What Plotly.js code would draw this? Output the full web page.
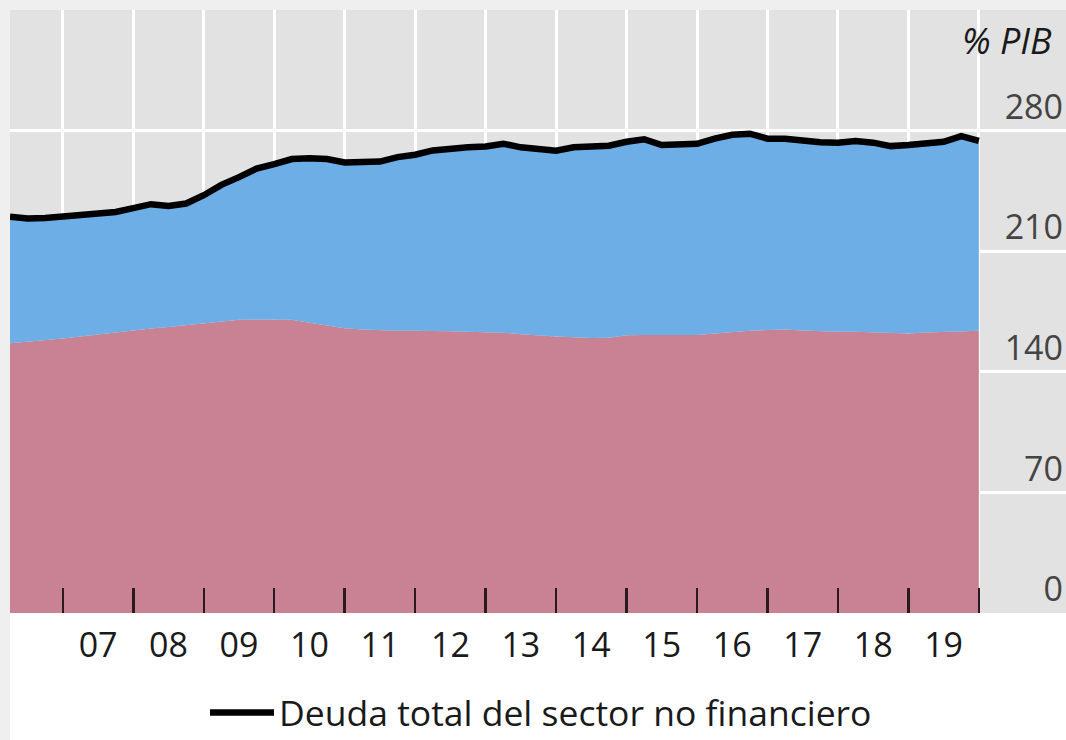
<!DOCTYPE html>
<html>
<head>
<meta charset="utf-8">
<script src="https://cdn.plot.ly/plotly-3.0.1.min.js"></script>
<style>html,body{margin:0;padding:0;background:#fff;overflow:hidden;}#chart{width:1066px;height:740px;}</style>
</head>
<body>
<div id="chart"></div>
<script>
// Quarterly positions (fraction of year, quarter-end), 2006 T1 .. 2019 T4
const quarters = [
  2006.25, 2006.5, 2006.75, 2007.0, 2007.25, 2007.5, 2007.75, 2008.0,
  2008.25, 2008.5, 2008.75, 2009.0, 2009.25, 2009.5, 2009.75, 2010.0,
  2010.25, 2010.5, 2010.75, 2011.0, 2011.25, 2011.5, 2011.75, 2012.0,
  2012.25, 2012.5, 2012.75, 2013.0, 2013.25, 2013.5, 2013.75, 2014.0,
  2014.25, 2014.5, 2014.75, 2015.0, 2015.25, 2015.5, 2015.75, 2016.0,
  2016.25, 2016.5, 2016.75, 2017.0, 2017.25, 2017.5, 2017.75, 2018.0,
  2018.25, 2018.5, 2018.75, 2019.0, 2019.25, 2019.5, 2019.75, 2020.0
];

// Lower (pink) component, % of GDP
const lowerSeries = [
  156.5, 157.3, 158.3, 159.3, 160.5, 161.7, 163.0, 164.3,
  165.1, 166.0, 167.0, 168.0, 169.3, 170.2, 170.4, 170.4,
  170.2, 168.5, 166.7, 165.3, 164.5, 164.0, 163.8, 163.8,
  163.8, 163.5, 163.2, 162.9, 162.7, 161.8, 161.0, 160.5,
  160.0, 159.6, 159.8, 161.2, 161.3, 161.3, 161.3, 161.4,
  162.3, 163.2, 163.8, 164.2, 164.6, 164.0, 163.5, 163.2,
  163.2, 163.0, 162.5, 162.3, 162.8, 163.2, 163.5, 163.8
];

// Total non-financial sector debt (black line), % of GDP
const totalDebt = [
  230.0, 229.0, 229.3, 230.0, 231.5, 231.8, 232.8, 235.0,
  237.3, 236.2, 237.7, 242.5, 248.5, 253.0, 258.0, 260.5,
  263.5, 264.0, 263.5, 261.5, 261.8, 262.0, 264.6, 266.0,
  268.5, 269.6, 270.3, 270.8, 272.4, 270.3, 269.0, 268.3,
  270.3, 270.6, 271.2, 273.5, 275.0, 271.6, 271.6, 272.3,
  275.3, 277.6, 278.2, 275.3, 275.3, 274.2, 273.3, 273.0,
  274.0, 273.0, 271.0, 271.6, 272.3, 273.5, 276.8, 274.0
];

const yearBounds = [2007,2008,2009,2010,2011,2012,2013,2014,2015,2016,2017,2018,2019,2020];
const yearLabelPos = [2007.5,2008.5,2009.5,2010.5,2011.5,2012.5,2013.5,2014.5,2015.5,2016.5,2017.5,2018.5,2019.5];
const yearLabels = ['07','08','09','10','11','12','13','14','15','16','17','18','19'];
const yTickVals = [0, 70, 140, 210, 280];
const yTickText = ['0', '70', '140', '210', '280'];
const legendName = 'Deuda total del sector no financiero';
const unitLabel = '% PIB';

const traces = [
  {
    x: quarters, y: lowerSeries, type: 'scatter', mode: 'lines',
    fill: 'tozeroy', fillcolor: '#c98293', line: {width: 0, color: '#c98293'},
    showlegend: false, hoverinfo: 'skip'
  },
  {
    x: quarters, y: totalDebt, type: 'scatter', mode: 'lines',
    fill: 'tonexty', fillcolor: '#6caee5', line: {width: 0, color: '#6caee5'},
    showlegend: false, hoverinfo: 'skip'
  },
  {
    x: quarters, y: totalDebt, type: 'scatter', mode: 'lines',
    name: legendName, line: {width: 6.5, color: '#000000'},
    showlegend: true
  }
];

const layout = {
  width: 1066, height: 740,
  margin: {l: 10, r: 0, t: 10, b: 127, pad: 0, autoexpand: false},
  paper_bgcolor: '#efefef',
  plot_bgcolor: '#e2e2e2',
  font: {family: 'Open Sans, sans-serif', size: 34, color: '#1a1a1a'},
  showlegend: true,
  legend: {
    orientation: 'h', x: 0.5 + 3/1056, xanchor: 'center', y: -130/603, yanchor: 'bottom',
    bgcolor: 'rgba(0,0,0,0)', font: {size: 35.5, color: '#1a1a1a'}, itemwidth: 64
  },
  xaxis: {
    range: [2006.25, 2021.237], tickmode: 'array', tickvals: yearLabelPos, ticktext: yearLabels,
    ticks: '', ticklabelstandoff: 9, showgrid: false, zeroline: false, showline: false, fixedrange: true,
    minor: {
      tickmode: 'array', tickvals: yearBounds, ticks: 'inside', ticklen: 25,
      tickwidth: 2.5, tickcolor: '#2a1a20', showgrid: true, gridcolor: '#ffffff', gridwidth: 3
    }
  },
  yaxis: {
    range: [0, 350], side: 'right', tickmode: 'array', tickvals: yTickVals, ticktext: yTickText,
    ticklabelposition: 'inside top', ticks: '', showgrid: true, gridcolor: '#ffffff', gridwidth: 3,
    zeroline: false, showline: false, fixedrange: true
  },
  shapes: [
    {type: 'rect', xref: 'paper', yref: 'paper', x0: 0, x1: 1.01, y0: 0, y1: -0.25,
     fillcolor: '#ffffff', line: {width: 0}, layer: 'below'}
  ],
  annotations: [
    {text: unitLabel, xref: 'paper', yref: 'paper', x: 1, y: 1, xanchor: 'right', yanchor: 'top',
     xshift: -12, yshift: -4, showarrow: false, font: {size: 36, style: 'italic', color: '#1a1a1a'}}
  ]
};

Plotly.newPlot('chart', traces, layout, {displayModeBar: false, staticPlot: true});
</script>
</body>
</html>
